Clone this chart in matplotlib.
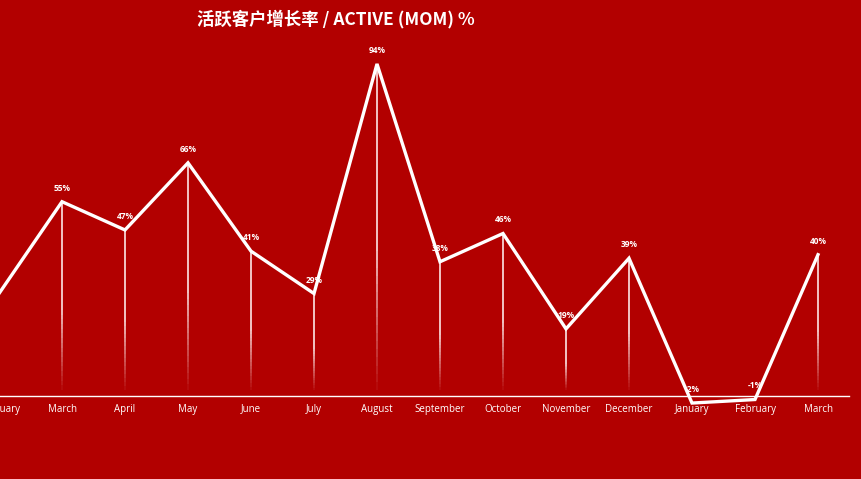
import matplotlib.pyplot as plt
import numpy as np
from matplotlib.collections import LineCollection

plt.rcParams['font.family'] = ['Open Sans', 'Noto Sans CJK SC', 'DejaVu Sans']

months = ["February", "March", "April", "May", "June", "July", "August",
          "September", "October", "November", "December", "January",
          "February", "March"]
growth = [29, 55, 47, 66, 41, 29, 94, 38, 46, 19, 39, -2, -1, 40]
labels = ["29%", "55%", "47%", "66%", "41%", "29%", "94%", "38%", "46%",
          "19%", "39%", "-2%", "-1%", "40%"]

bg = '#b20000'
fig = plt.figure(figsize=(8.61, 4.79), dpi=100, facecolor=bg)
ax = fig.add_axes([0, 0, 1, 1], facecolor=bg)
ax.set_xlim(1/63, 862/63)
ax.set_ylim(-23.5, 112.1)
ax.axis('off')

x = np.arange(len(months))

# fading drop lines
segs, cols = [], []
for xi, v in zip(x, growth):
    if v <= 0:
        continue
    top, bot = v, 1.7
    n = 40
    ys = np.linspace(top, bot, n + 1)
    for k in range(n):
        frac = k / n
        a = 1.0 if frac < 0.55 else max(0, 1 - (frac - 0.55) / 0.45)
        segs.append([(xi, ys[k]), (xi, ys[k + 1])])
        cols.append((1, 0.92, 0.92, a * 0.9))
ax.add_collection(LineCollection(segs, colors=cols, linewidths=1.3))

# baseline
ax.plot([1/63, 850/63], [0, 0], color='white', lw=1.0)

ax.plot(x, growth, color='white', lw=2.4, solid_joinstyle='miter', zorder=3)

for xi, v, t in zip(x, growth, labels):
    ax.annotate(t, (xi, v), xytext=(0, 6.5), textcoords='offset points',
                ha='center', va='bottom', color='white', fontsize=6,
                fontweight='bold', zorder=4)

for xi, m in zip(x, months):
    ax.text(xi, -3.7, m, ha='center', va='center', color='white', fontsize=7)

fig.text(336/861, 1 - 19/479, "活跃客户增长率 / ACTIVE (MOM) %", ha='center',
         va='center', color='white', fontsize=12.5, fontweight='bold',
         family=['Noto Sans CJK SC', 'DejaVu Sans'])

fig.savefig('out.png', dpi=100, facecolor=bg)
